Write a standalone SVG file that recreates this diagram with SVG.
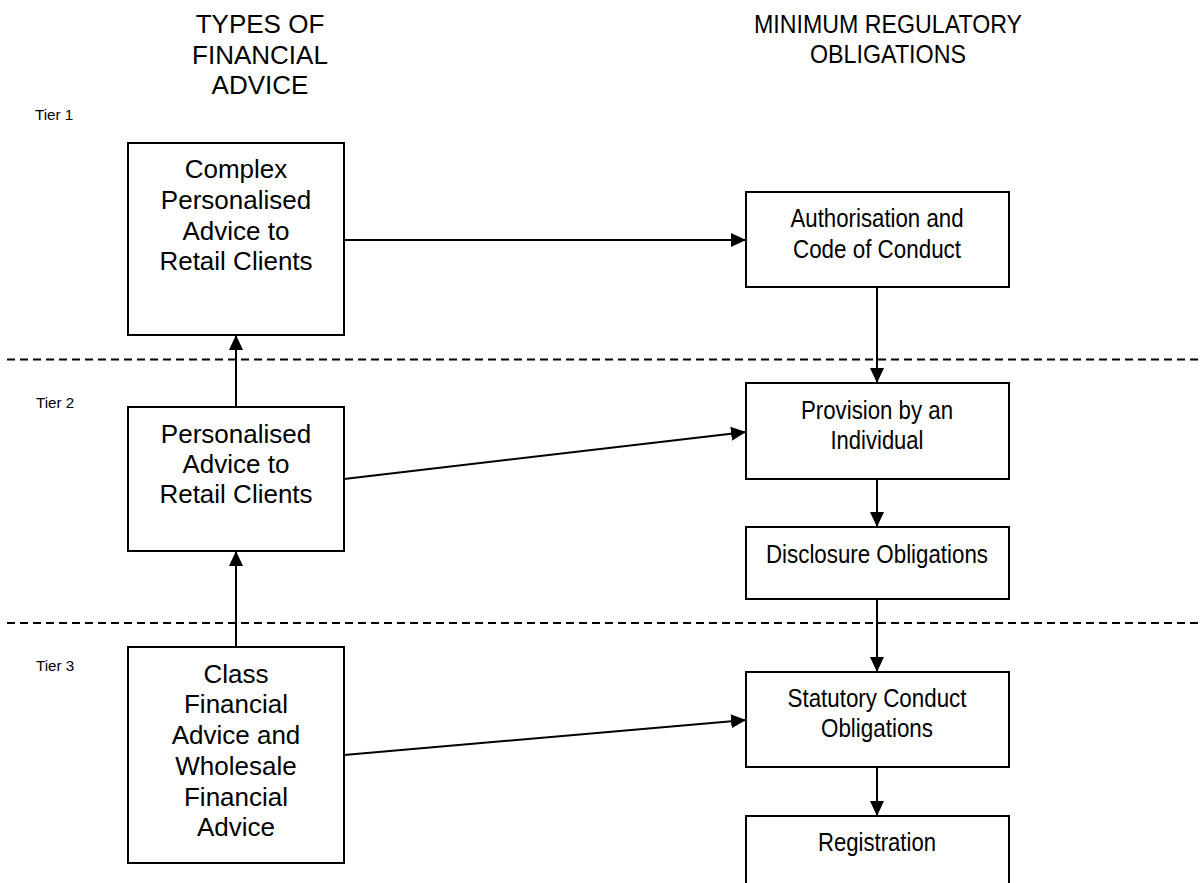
<svg xmlns="http://www.w3.org/2000/svg" width="1203" height="883" viewBox="0 0 1203 883">
<style>
text{font-family:"Liberation Sans",Arial,sans-serif;fill:#000}
.hd{font-size:26px;text-anchor:middle}
.bt{font-size:26px;text-anchor:middle}
.tier{font-size:15.2px}
.box{fill:#fff;stroke:#000;stroke-width:2}
.con{stroke:#000;stroke-width:2;fill:none;marker-end:url(#ah)}
.dash{stroke:#000;stroke-width:2;stroke-dasharray:8 5;fill:none}
</style>
<defs>
<marker id="ah" markerUnits="userSpaceOnUse" markerWidth="15" markerHeight="14" refX="15" refY="7" orient="auto">
<path d="M0,0 L15,7 L0,14 Z" fill="#000"/>
</marker>
</defs>

<g id="headers">
<text class="hd" x="260" y="33">TYPES OF</text>
<text class="hd" x="260" y="64">FINANCIAL</text>
<text class="hd" x="260" y="94">ADVICE</text>
<text class="hd" x="888" y="33" textLength="268" lengthAdjust="spacingAndGlyphs">MINIMUM REGULATORY</text>
<text class="hd" x="888" y="63" textLength="156" lengthAdjust="spacingAndGlyphs">OBLIGATIONS</text>
</g>

<g id="tiers">
<text class="tier" x="35" y="120">Tier 1</text>
<text class="tier" x="36" y="408">Tier 2</text>
<text class="tier" x="36" y="671">Tier 3</text>
<line class="dash" x1="7" y1="359.5" x2="1203" y2="359.5"/>
<line class="dash" x1="7" y1="623" x2="1203" y2="623"/>
</g>

<g id="connectors">
<line class="con" x1="344" y1="240" x2="746" y2="240"/>
<line class="con" x1="236" y1="407" x2="236" y2="335"/>
<line class="con" x1="236" y1="647" x2="236" y2="551"/>
<line class="con" x1="344" y1="479" x2="746" y2="432"/>
<line class="con" x1="344" y1="755" x2="746" y2="720"/>
<line class="con" x1="877" y1="287" x2="877" y2="383"/>
<line class="con" x1="877" y1="479" x2="877" y2="527"/>
<line class="con" x1="877" y1="599" x2="877" y2="672"/>
<line class="con" x1="877" y1="767" x2="877" y2="816"/>
</g>

<g id="node-complex">
<rect class="box" x="128" y="143" width="216" height="192"/>
<text class="bt" x="236" y="178">Complex</text>
<text class="bt" x="236" y="209">Personalised</text>
<text class="bt" x="236" y="240">Advice to</text>
<text class="bt" x="236" y="270">Retail Clients</text>
</g>

<g id="node-personalised">
<rect class="box" x="128" y="407" width="216" height="144"/>
<text class="bt" x="236" y="443">Personalised</text>
<text class="bt" x="236" y="473">Advice to</text>
<text class="bt" x="236" y="503">Retail Clients</text>
</g>

<g id="node-class">
<rect class="box" x="128" y="647" width="216" height="216"/>
<text class="bt" x="236" y="683">Class</text>
<text class="bt" x="236" y="713">Financial</text>
<text class="bt" x="236" y="744">Advice and</text>
<text class="bt" x="236" y="775">Wholesale</text>
<text class="bt" x="236" y="806">Financial</text>
<text class="bt" x="236" y="836">Advice</text>
</g>

<g id="node-authorisation">
<rect class="box" x="746" y="192" width="263" height="95"/>
<text class="bt" x="877" y="227" textLength="173" lengthAdjust="spacingAndGlyphs">Authorisation and</text>
<text class="bt" x="877" y="258" textLength="168" lengthAdjust="spacingAndGlyphs">Code of Conduct</text>
</g>

<g id="node-provision">
<rect class="box" x="746" y="383" width="263" height="96"/>
<text class="bt" x="877" y="419" textLength="152" lengthAdjust="spacingAndGlyphs">Provision by an</text>
<text class="bt" x="877" y="449" textLength="93" lengthAdjust="spacingAndGlyphs">Individual</text>
</g>

<g id="node-disclosure">
<rect class="box" x="746" y="527" width="263" height="72"/>
<text class="bt" x="877" y="563" textLength="222" lengthAdjust="spacingAndGlyphs">Disclosure Obligations</text>
</g>

<g id="node-statutory">
<rect class="box" x="746" y="672" width="263" height="95"/>
<text class="bt" x="877" y="707" textLength="179" lengthAdjust="spacingAndGlyphs">Statutory Conduct</text>
<text class="bt" x="877" y="737" textLength="112" lengthAdjust="spacingAndGlyphs">Obligations</text>
</g>

<g id="node-registration">
<rect class="box" x="746" y="816" width="263" height="80"/>
<text class="bt" x="877" y="851" textLength="118" lengthAdjust="spacingAndGlyphs">Registration</text>
</g>
</svg>
